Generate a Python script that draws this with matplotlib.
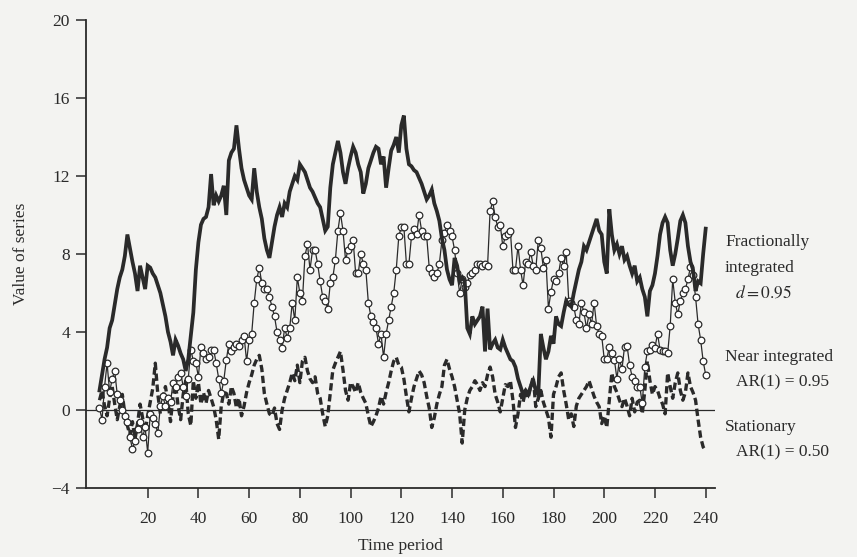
#!/usr/bin/env python3
"""
Three simulated series over 240 periods: fractionally integrated (d=0.95),
near integrated AR(1)=0.95 and stationary AR(1)=0.50.

Produces:
  out.png
"""

import matplotlib
matplotlib.use('Agg')
import matplotlib.pyplot as plt


# -----------------------------------------------------------------------
# Data (one value per time period)
# -----------------------------------------------------------------------

frac_integrated = [
    1.0, 1.8, 2.6, 3.2, 4.2, 4.6, 5.4, 6.2, 6.8, 7.2,
    7.9, 9.0, 8.3, 7.6, 7.0, 6.1, 7.4, 6.8, 6.2, 7.4,
    7.3, 7.0, 6.8, 6.4, 6.0, 5.4, 4.8, 4.0, 3.5, 2.8,
    3.6, 3.3, 2.9, 2.6, 2.0, 2.6, 3.8, 5.0, 7.2, 8.6,
    9.5, 9.8, 9.9, 10.4, 12.1, 10.5, 11.0, 10.7, 11.0, 11.5,
    10.0, 12.8, 13.2, 13.4, 14.6, 13.4, 12.4, 11.8, 11.4, 11.0,
    10.8, 12.4, 11.2, 10.4, 9.8, 8.8, 8.2, 7.8, 8.6, 9.4,
    10.0, 10.4, 9.9, 10.6, 10.4, 11.2, 11.6, 12.0, 11.8, 12.6,
    12.4, 12.2, 11.8, 11.4, 11.2, 10.9, 10.6, 10.4, 9.8, 9.2,
    9.4, 11.4, 12.6, 13.2, 13.8, 13.2, 12.2, 11.6, 12.4, 13.0,
    13.5, 13.2, 12.6, 12.2, 11.1, 11.6, 12.4, 12.8, 13.2, 13.5,
    13.4, 12.6, 13.0, 11.4, 12.4, 13.3, 13.6, 14.0, 13.2, 14.6,
    15.1, 13.4, 12.6, 12.5, 12.3, 12.2, 11.9, 11.6, 11.2, 10.8,
    11.0, 11.3, 10.6, 10.2, 9.7, 8.8, 8.2, 7.2, 6.7, 6.4,
    7.8, 7.4, 6.6, 6.8, 6.6, 4.2, 3.9, 4.8, 4.4, 4.6,
    4.8, 5.3, 3.0, 5.2, 3.1, 3.4, 3.6, 3.2, 3.1, 3.6,
    3.2, 2.9, 2.6, 2.5, 2.2, 1.6, 1.2, 0.8, 1.0, 0.8,
    1.2, 1.5, 1.0, 0.8, 3.9, 3.2, 2.6, 3.0, 3.8, 3.4,
    4.8, 4.4, 4.3, 5.0, 5.6, 5.4, 5.3, 6.0, 6.6, 7.2,
    7.6, 8.4, 8.2, 8.6, 9.0, 9.4, 9.8, 9.2, 9.0, 7.6,
    7.0, 10.3, 9.0, 8.2, 8.5, 8.0, 8.4, 7.7, 7.9, 7.4,
    7.0, 7.4, 6.6, 6.8, 6.2, 5.8, 4.8, 6.1, 6.4, 7.0,
    7.9, 9.0, 9.6, 9.9, 9.6, 8.2, 7.4, 8.0, 8.8, 9.7,
    10.0, 9.6, 8.4, 7.6, 7.2, 6.1, 6.6, 6.5, 8.0, 9.3,
]

near_integrated = [
    0.1, -0.5, 1.2, 2.4, 0.9, 1.6, 2.0, 0.8, 0.5, 0.0,
    -0.3, -0.6, -1.4, -2.0, -1.6, -1.0, -0.6, -1.4, -0.9, -2.2,
    -0.2, -0.4, -0.7, -1.2, 0.2, 0.7, 0.2, 0.6, 0.4, 1.4,
    1.2, 1.7, 1.9, 1.2, 0.7, 1.6, 3.1, 2.5, 2.4, 1.7,
    3.25, 2.9, 2.6, 2.7, 3.1, 3.1, 2.4, 1.6, 0.85, 1.5,
    2.56, 3.4, 3.0, 3.25, 3.4, 3.3, 3.6, 3.8, 2.5, 3.6,
    3.9, 5.5, 6.7, 7.3, 6.5, 6.2, 6.2, 5.8, 5.3, 4.8,
    4.0, 3.6, 3.2, 4.2, 3.7, 4.2, 5.5, 4.6, 6.8, 6.0,
    5.6, 7.9, 8.5, 7.2, 8.2, 8.2, 7.5, 6.6, 5.8, 5.6,
    5.2, 6.5, 6.8, 7.7, 9.2, 10.1, 9.2, 7.7, 8.2, 8.4,
    8.7, 7.0, 7.0, 8.0, 7.5, 7.2, 5.5, 4.8, 4.5, 4.2,
    3.4, 3.9, 2.7, 3.9, 4.6, 5.3, 6.0, 7.2, 8.9, 9.4,
    9.4, 7.5, 7.5, 8.9, 9.3, 9.0, 10.0, 9.2, 8.9, 8.9,
    7.3, 7.0, 6.8, 7.0, 7.5, 8.7, 9.1, 9.5, 9.2, 8.9,
    8.2, 7.0, 6.0, 6.7, 6.3, 6.5, 6.9, 7.0, 7.2, 7.5,
    7.5, 7.4, 7.5, 7.4, 10.2, 10.7, 9.9, 9.4, 9.5, 8.4,
    8.9, 9.0, 9.2, 7.2, 7.2, 8.4, 7.2, 6.4, 7.6, 7.5,
    8.1, 7.4, 7.2, 8.7, 8.3, 7.3, 7.7, 5.2, 6.05, 6.7,
    6.6, 7.0, 7.8, 7.4, 8.1, 5.6, 5.5, 5.3, 4.6, 4.4,
    5.5, 5.0, 4.2, 4.9, 4.4, 5.5, 4.3, 3.9, 3.8, 2.6,
    2.6, 3.25, 2.9, 2.57, 1.6, 2.6, 2.1, 3.25, 3.3, 2.3,
    1.7, 1.5, 1.2, 1.2, 0.34, 2.2, 3.0, 3.1, 3.35, 3.2,
    3.9, 3.1, 3.0, 3.0, 2.9, 4.3, 6.7, 5.5, 4.9, 5.6,
    6.0, 6.2, 6.7, 7.35, 6.9, 5.8, 4.4, 3.6, 2.5, 1.8,
]

stationary = [
    0.5, 1.0, 0.2, -0.3, 0.6, 1.2, 0.3, -0.5, 0.2, 0.8,
    -0.2, -0.8, -1.3, -0.6, -1.5, -0.7, 0.3, -0.4, -1.1, -0.3,
    0.4, 1.1, 2.4, 0.8, -0.2, 0.6, 1.2, 0.4, -0.6, 0.7,
    1.3, 0.2, -0.5, 0.8, 1.5, -0.2, -0.8, 1.5, 0.6, 1.4,
    0.3, 0.9, 0.34, 1.0, 0.6, 0.17, -0.5, -1.5, 0.2, 0.9,
    0.85, 0.3, 1.2, 0.85, 0.1, 0.6, -0.3, 0.2, 0.9, 1.4,
    1.8, 2.3, 2.6, 2.8, 2.1, 0.85, 0.3, -0.2, -0.3, 0.1,
    -0.7, -1.0, 0.0, 0.6, 1.0, 1.4, 1.9, 1.5, 2.3, 1.4,
    2.5, 2.7, 2.0, 1.6, 1.4, 1.7, 0.85, 0.6, -0.2, -0.85,
    -0.3, 0.85, 2.05, 2.4, 2.7, 3.0, 2.05, 1.0, 0.5, 1.4,
    1.2, 0.9, 1.4, 0.9, 0.6, 0.34, -0.3, -0.85, -0.6, -0.3,
    0.1, 0.7, 0.3, 0.9, 1.4, 2.0, 2.5, 2.7, 2.3, 2.2,
    1.6, 0.7, -0.1, 0.6, 1.2, 1.6, 2.0, 1.8, 1.4, 0.7,
    0.1, -0.9, -0.4, 0.3, 0.8, 1.2, 2.3, 2.6, 2.1, 1.7,
    1.2, 0.5, -0.2, -1.7, 0.0, 0.6, 1.0, 1.2, 1.5, 1.3,
    1.0, 1.4, 1.2, 1.8, 2.2, 1.7, 0.8, 0.4, -0.1, 0.6,
    1.3, 1.2, 1.5, 0.5, -0.9, -0.2, 0.8, 0.4, 1.0, 0.6,
    1.2, 1.7, 0.17, 0.6, 1.0, 0.4, 0.0, -0.4, -1.4, 0.8,
    1.2, 1.7, 1.9, 1.0, 0.3, -0.5, -0.2, -0.85, 0.2, 0.6,
    0.8, 1.0, 1.2, 1.5, 1.1, 0.7, 0.4, 0.17, -0.7, -0.3,
    -0.9, 0.5, 1.9, 1.2, 0.9, 0.5, 0.17, 0.6, 0.2, -0.3,
    0.6, -0.1, 0.4, 0.5, -0.2, 1.0, 2.5, 1.5, 0.8, 1.2,
    1.0, 0.6, 0.3, -0.2, 1.9, 1.2, 0.6, 1.4, 1.9, 1.0,
    0.5, 0.9, 1.9, 1.2, 0.9, 0.5, -0.5, -1.4, -1.9, -2.1,
]

periods = list(range(1, len(frac_integrated) + 1))

x_ticks = [20, 40, 60, 80, 100, 120, 140, 160, 180, 200, 220, 240]
y_ticks = [-4, 0, 4, 8, 12, 16, 20]


# -----------------------------------------------------------------------
# Plot
# -----------------------------------------------------------------------

def main():
    plt.rcParams['font.family'] = ['Liberation Serif', 'DejaVu Serif']
    plt.rcParams['mathtext.fontset'] = 'stix'

    ink = '#2a2a2a'
    paper = '#f3f3f1'

    fig = plt.figure(figsize=(8.57, 5.57), dpi=100, facecolor=paper)
    ax = fig.add_axes([0.1004, 0.124, 0.734, 0.840], facecolor=paper)

    # zero reference line
    ax.axhline(0, color=ink, linewidth=0.9, zorder=1)

    ax.plot(periods, stationary, color=ink, linewidth=2.4,
            linestyle=(0, (2.2, 1.1)), zorder=2)
    ax.plot(periods, near_integrated, color=ink, linewidth=0.9,
            marker='o', markersize=4.8, markerfacecolor='white',
            markeredgecolor=ink, markeredgewidth=0.9, zorder=3)
    ax.plot(periods, frac_integrated, color=ink, linewidth=2.7,
            solid_joinstyle='miter', zorder=4)

    ax.set_xlim(-4.3, 243.7)
    ax.set_ylim(-4, 20)
    ax.set_xticks(x_ticks)
    ax.set_yticks(y_ticks)
    ax.set_yticklabels(['\u22124' if v < 0 else str(v) for v in y_ticks])

    for side in ('top', 'right'):
        ax.spines[side].set_visible(False)
    for side in ('left', 'bottom'):
        ax.spines[side].set_color(ink)
        ax.spines[side].set_linewidth(1.3)

    ax.tick_params(axis='both', colors=ink, labelcolor=ink,
                   labelsize=12.5, length=7.5, width=1.1, direction='out')
    ax.tick_params(axis='y', pad=4)
    ax.tick_params(axis='x', pad=9)

    ax.set_xlabel('Time period', fontsize=12.5, color=ink, labelpad=8)
    ax.set_ylabel('Value of series', fontsize=12.5, color=ink, labelpad=16)

    # series labels at the right edge
    lab = dict(fontsize=12.5, color=ink, ha='left', va='center',
               clip_on=False)
    ax.text(247.6, 8.6, 'Fractionally', **lab)
    ax.text(247.6, 7.3, 'integrated', **lab)
    ax.text(251.5, 6.0, r'$d = 0.95$', **lab)
    ax.text(247.6, 2.7, 'Near integrated', **lab)
    ax.text(252.0, 1.4, 'AR(1) = 0.95', **lab)
    ax.text(247.6, -0.9, 'Stationary', **lab)
    ax.text(252.0, -2.2, 'AR(1) = 0.50', **lab)

    fig.savefig('out.png', dpi=100, facecolor=paper)
    plt.close(fig)


if __name__ == '__main__':
    main()
